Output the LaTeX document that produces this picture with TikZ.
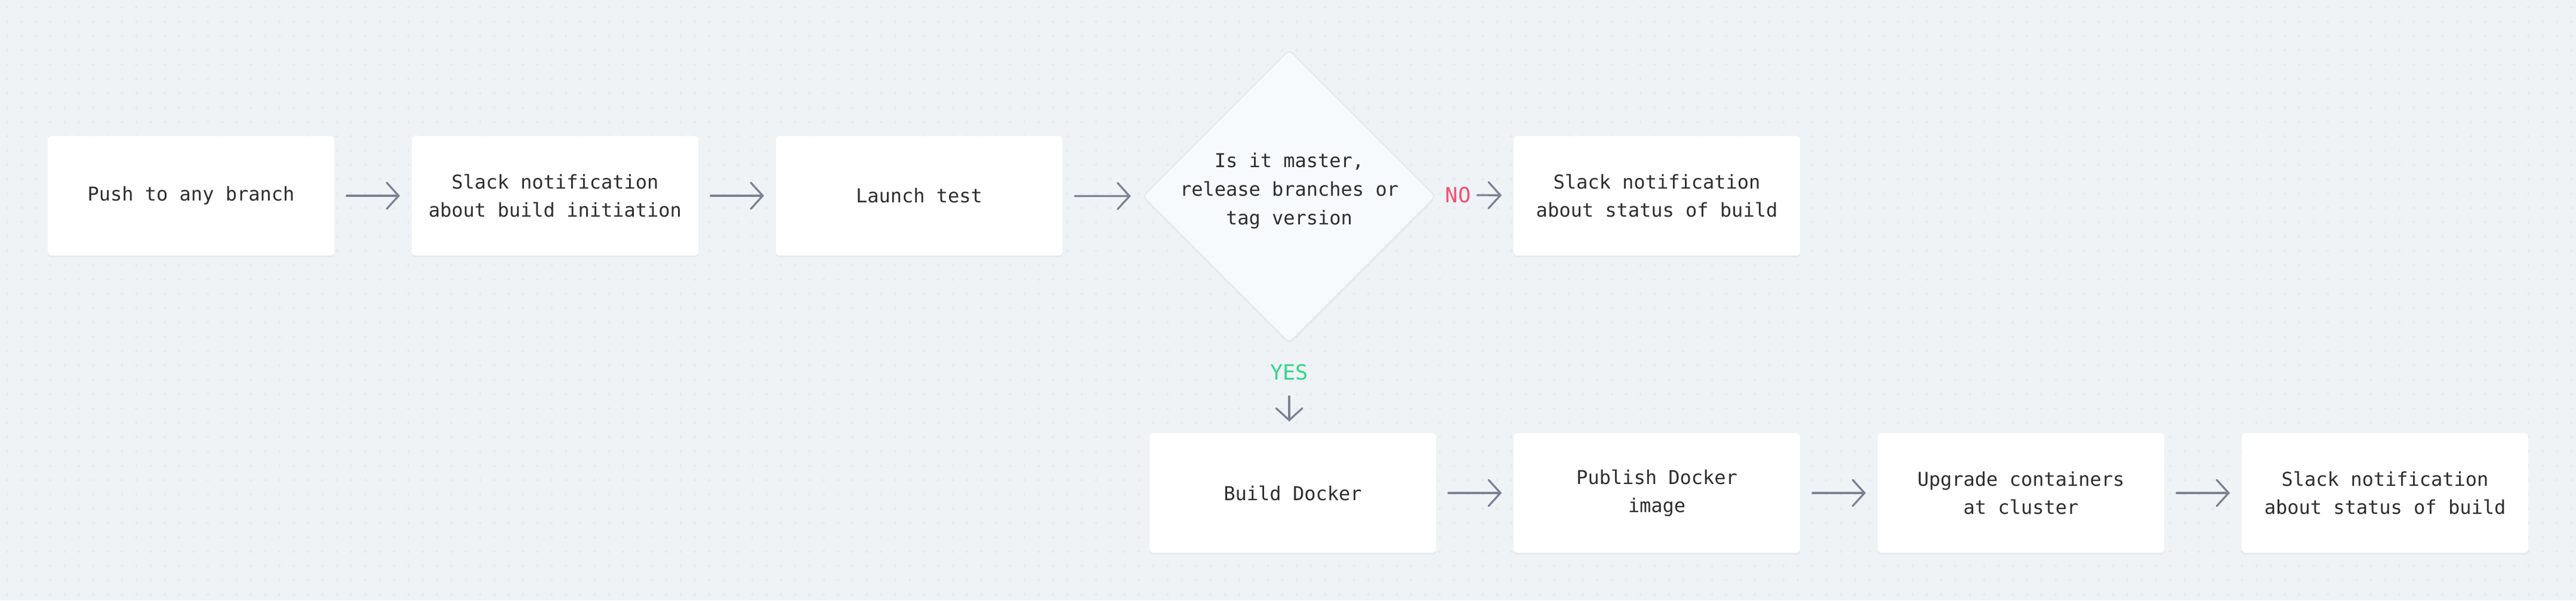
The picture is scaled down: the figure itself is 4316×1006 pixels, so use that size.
\documentclass[tikz,border=0pt]{standalone}
\usepackage{fontspec}
\setmonofont{DejaVu Sans Mono}
\usepackage{tikz}
\usepackage{xcolor}
\usetikzlibrary{arrows.meta,shapes.geometric,shadows}
\definecolor{bgcol}{HTML}{EFF3F6}
\definecolor{dotcol}{HTML}{E2E7EC}
\definecolor{txtcol}{HTML}{2E2E2E}
\definecolor{arrcol}{HTML}{7B8394}
\definecolor{nocol}{HTML}{F2506E}
\definecolor{yescol}{HTML}{34D58A}
\definecolor{diamcol}{HTML}{F6FAFD}
\definecolor{edgecol}{HTML}{E4E8EC}

\begin{document}
\begin{tikzpicture}[x=0.01cm,y=-0.01cm,
  stepbox/.style={rectangle,rounded corners=0.06cm,fill=white,minimum width=4.8cm,minimum height=2cm,align=center,text=txtcol,font=\ttfamily\fontsize{9.1}{13.4}\selectfont,drop shadow={opacity=0.07,shadow xshift=0pt,shadow yshift=-0.03cm}},
  decision/.style={diamond,aspect=1,minimum width=4.91cm,minimum height=4.91cm,inner sep=0pt,rounded corners=0.08cm,fill=diamcol,draw=edgecol,line width=0.02cm,drop shadow={opacity=0.06,shadow xshift=0pt,shadow yshift=-0.03cm}},
  decisiontext/.style={align=center,text=txtcol,font=\ttfamily\fontsize{9.1}{13.6}\selectfont},
  answer/.style={inner sep=0pt,font=\ttfamily\fontsize{10}{12}\selectfont},
  flow/.style={draw=arrcol,line width=0.033cm,line cap=round,-{Straight Barb[length=0.2cm,width=0.44cm,line cap=round]},shorten <=0.2cm,shorten >=0.19cm}]
\useasboundingbox (0,0) rectangle (4316,1006);
\fill[bgcol] (0,0) rectangle (4316,1006);
\path[draw=dotcol,line width=0.01cm] \foreach \i in {0,...,179}{\foreach \j in {0,...,41}{(9+24*\i,12+24*\j) -- ++(6,0) (12+24*\i,9+24*\j) -- ++(0,6)}};

\node[stepbox] (push) at (320,328) {Push to any branch};
\node[stepbox] (slackstart) at (930,328) {Slack notification\\about build initiation};
\node[stepbox] (launch) at (1540,328) {Launch test};
\node[decision] (ismaster) at (2160,329) {};
\node[decisiontext] (ismastertxt) at ([yshift=0.09cm]ismaster.center) {Is it master,\\release branches or\\tag version};
\node[stepbox] (slackno) at (2776,328) {Slack notification\\about status of build};
\node[answer,text=nocol] (no) at (2443,327) {NO};
\node[answer,text=yescol] (yes) at (2160,624) {YES};
\node[stepbox] (build) at (2166,826) {Build Docker};
\node[stepbox] (publish) at (2776,826) {Publish Docker\\image};
\node[stepbox] (upgrade) at (3386,826) {Upgrade containers\\at cluster};
\node[stepbox] (slackdone) at (3996,826) {Slack notification\\about status of build};

\draw[flow] (push) -- (slackstart);
\draw[flow] (slackstart) -- (launch);
\draw[flow] (launch) -- (ismaster);
\draw[flow,shorten <=0.1cm] (no.east) -- (slackno);
\draw[flow,shorten <=0.26cm] (yes.south) -- (yes.south |- build.north);
\draw[flow] (build) -- (publish);
\draw[flow] (publish) -- (upgrade);
\draw[flow] (upgrade) -- (slackdone);
\end{tikzpicture}
\end{document}
